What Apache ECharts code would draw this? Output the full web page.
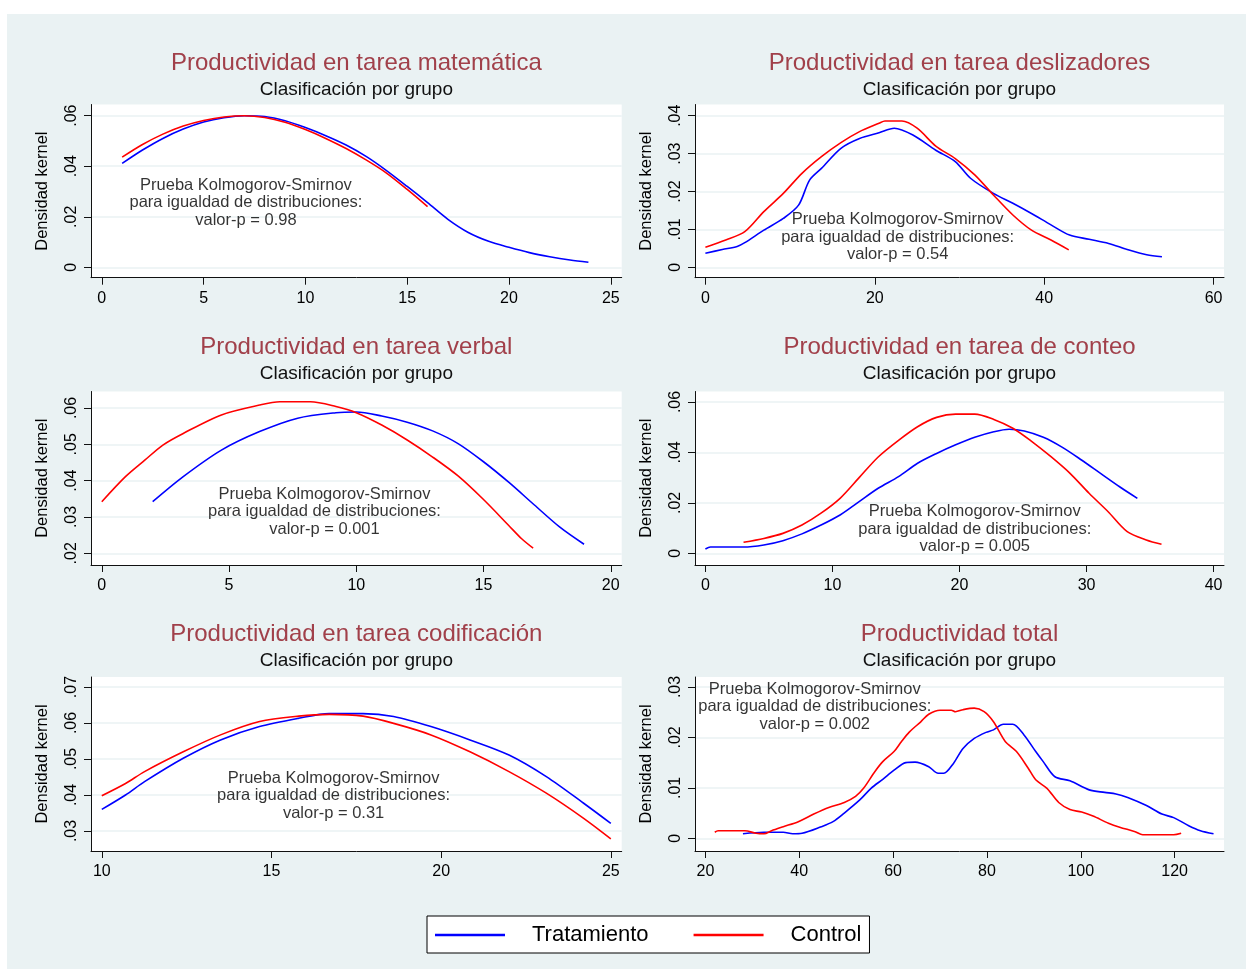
<!DOCTYPE html>
<html>
<head>
<meta charset="utf-8">
<script src="https://cdn.jsdelivr.net/npm/echarts@6/dist/echarts.min.js"></script>
<style>
  html, body { margin: 0; padding: 0; background: #ffffff; }
  #chart { position: absolute; left: 7px; top: 14px; width: 1239px; height: 955px; }
</style>
</head>
<body>
<div id="chart"></div>
<script>
// ---- Text ----
const seriesNames = ['Tratamiento', 'Control'];
const panelTitles = [
  'Productividad en tarea matemática',
  'Productividad en tarea deslizadores',
  'Productividad en tarea verbal',
  'Productividad en tarea de conteo',
  'Productividad en tarea codificación',
  'Productividad total'
];
const subtitle = 'Clasificación por grupo';
const yAxisTitle = 'Densidad kernel';
const ksPValues = ['0.98', '0.54', '0.001', '0.005', '0.31', '0.002'];

// ---- Tick values ----
const mathXTicks = [0, 5, 10, 15, 20, 25];
const mathYTicks = [0, 0.02, 0.04, 0.06];
const sliderXTicks = [0, 20, 40, 60];
const sliderYTicks = [0, 0.01, 0.02, 0.03, 0.04];
const verbalXTicks = [0, 5, 10, 15, 20];
const verbalYTicks = [0.02, 0.03, 0.04, 0.05, 0.06];
const countXTicks = [0, 10, 20, 30, 40];
const countYTicks = [0, 0.02, 0.04, 0.06];
const codingXTicks = [10, 15, 20, 25];
const codingYTicks = [0.03, 0.04, 0.05, 0.06, 0.07];
const totalXTicks = [20, 40, 60, 80, 100, 120];
const totalYTicks = [0, 0.01, 0.02, 0.03];

// ---- Kernel density estimates: [score, density] ----
const mathTreat = [[1,.0411],[2,.0464],[3,.0510],[4,.0547],[5,.0575],[6,.0592],[7,.0600],[8,.0597],[9,.0580],[10,.0553],[11,.0521],[12,.0484],[13,.0438],[14,.0382],[15,.0320],[16,.0256],[17,.0190],[18,.0138],[19,.0103],[20,.0079],[21,.0058],[22,.0042],[23,.0029],[23.9,.0020]];
const mathControl = [[1,.0436],[2,.0486],[3,.0527],[4,.0559],[5,.0581],[6,.0595],[7,.0600],[8,.0593],[9,.0574],[10,.0545],[11,.0510],[12,.0470],[13,.0424],[14,.0372],[15,.0308],[16,.0240]];

const sliderTreat = [[0,.0037],[2,.0047],[3.75,.0055],[4.65,.0065],[6.9,.0098],[9.2,.0129],[11,.0164],[12.3,.0230],[13.7,.0261],[16,.0314],[18.2,.0340],[20.5,.0355],[22.3,.0367],[24.5,.0349],[27.2,.0309],[29.5,.0279],[31.3,.0235],[34,.0195],[36.3,.0169],[38.5,.0142],[40.8,.0112],[43,.0085],[45.3,.0074],[47.6,.0063],[49.8,.0047],[52.1,.0033],[53.9,.0028]];
const sliderControl = [[0,.0053],[2.4,.0072],[4.65,.0094],[6.9,.0147],[9.2,.0195],[11.4,.0248],[13.7,.0292],[16,.0329],[18.2,.0358],[20.5,.0380],[21.2,.0386],[23.2,.0386],[25,.0367],[27.2,.0320],[29.5,.0287],[31.8,.0244],[34,.0191],[36.3,.0138],[38.5,.0098],[40.8,.0072],[42.9,.0046]];

const verbalTreat = [[2,.0342],[3.2,.0411],[4.7,.0484],[6.2,.0535],[7.7,.0572],[9.2,.0587],[10,.0589],[11,.0578],[12,.0561],[13,.0537],[14,.0502],[15,.0452],[16,.0395],[17,.0333],[18,.0272],[18.95,.0225]];
const verbalControl = [[0,.0342],[0.93,.0411],[1.7,.0457],[2.4,.0498],[3.2,.0530],[4.7,.0581],[6.2,.0608],[7,.0617],[8.2,.0617],[9.2,.0604],[10,.0587],[11,.0553],[12,.0512],[13,.0465],[14,.0413],[15,.0348],[16,.0276],[16.5,.0240],[16.95,.0214]];

const countTreat = [[0,.0017],[0.4,.0025],[3,.0025],[4.6,.0033],[6.1,.0050],[7.6,.0077],[9.1,.0112],[10.6,.0152],[12.1,.0205],[13.6,.0258],[15.2,.0304],[16.7,.0357],[18.2,.0396],[19.7,.0430],[21.2,.0460],[22.7,.0482],[23.9,.0492],[25.1,.0485],[26.6,.0460],[28.1,.0420],[29.6,.0370],[31.1,.0317],[32.6,.0264],[34,.0218]];
const countControl = [[3,.0044],[4.6,.0059],[6.1,.0079],[7.6,.0112],[9.1,.0159],[10.6,.0218],[12.1,.0300],[13.6,.0382],[15.2,.0448],[16.7,.0502],[18.2,.0539],[19.7,.0552],[21.2,.0552],[22.7,.0531],[24.2,.0496],[25.7,.0443],[27.2,.0383],[28.7,.0317],[30.2,.0238],[31.7,.0165],[33.2,.0086],[34.7,.0053],[35.9,.0036]];

const codingTreat = [[10,.0360],[10.7,.0400],[11.26,.0437],[12.4,.0502],[13.5,.0553],[14.65,.0590],[15.8,.0613],[16.7,.0626],[17.7,.0626],[18.6,.0618],[19.7,.0590],[20.85,.0553],[22,.0511],[23.1,.0451],[24.2,.0377],[25,.0321]];
const codingControl = [[10,.0398],[10.7,.0432],[11.26,.0465],[12.4,.0520],[13.5,.0567],[14.65,.0604],[15.8,.0619],[16.7,.0624],[17.7,.0619],[18.6,.0599],[19.7,.0567],[20.85,.0520],[22,.0465],[23.1,.0405],[24.2,.0335],[25,.0278]];

const totalTreat = [[28,.0009],[32.5,.0012],[36.6,.0012],[38.6,.0009],[40.6,.0010],[44.7,.0023],[47.2,.0033],[49.6,.0050],[52.9,.0076],[55.3,.0099],[57.8,.0117],[60.2,.0135],[62.7,.0150],[64.7,.0151],[67.6,.0142],[69.6,.0129],[70.8,.0129],[72.9,.0149],[74.9,.0178],[77.3,.0198],[79.8,.0210],[81.4,.0215],[83.5,.0226],[85.5,.0226],[87.9,.0205],[90.4,.0172],[92,.0152],[94.5,.0122],[97.7,.0114],[101.8,.0096],[105.1,.0091],[107.5,.0088],[110,.0081],[114,.0065],[117.3,.0048],[119.8,.0041],[123,.0025],[125.5,.0015],[128.3,.0009]];
const totalControl = [[22,.0012],[22.7,.0015],[28.4,.0015],[30.8,.0010],[32.5,.0009],[34.1,.0015],[36.6,.0023],[39.8,.0033],[43.1,.0048],[46.3,.0061],[49.6,.0071],[52,.0083],[53.7,.0099],[56.1,.0132],[57.8,.0152],[60.2,.0172],[61.8,.0192],[63.5,.0211],[65.9,.0231],[67.6,.0246],[70,.0254],[72.4,.0254],[73.3,.0251],[74.9,.0255],[77.3,.0258],[79.4,.0251],[81.4,.0231],[83.9,.0192],[86.3,.0172],[88.8,.0139],[90.4,.0116],[92.8,.0099],[95.3,.0071],[97.7,.0057],[100.2,.0052],[102.6,.0044],[105.9,.0030],[108.3,.0022],[111.6,.0013],[113.2,.0007],[119.8,.0007],[121.4,.0010]];

// Where each Kolmogorov-Smirnov note sits, in data units of its panel
const ksNoteAnchors = [[7.08, .0256], [22.7, .0079], [8.75, .0315], [21.2, .0095], [16.83, .0398], [43.3, .0261]];

// ---- Panel assembly ----
const panelData = [
  { treat: mathTreat,   control: mathControl,   xTicks: mathXTicks,   yTicks: mathYTicks },
  { treat: sliderTreat, control: sliderControl, xTicks: sliderXTicks, yTicks: sliderYTicks },
  { treat: verbalTreat, control: verbalControl, xTicks: verbalXTicks, yTicks: verbalYTicks },
  { treat: countTreat,  control: countControl,  xTicks: countXTicks,  yTicks: countYTicks },
  { treat: codingTreat, control: codingControl, xTicks: codingXTicks, yTicks: codingYTicks },
  { treat: totalTreat,  control: totalControl,  xTicks: totalXTicks,  yTicks: totalYTicks }
];

// Plot regions (page pixels) and axis extents, including the padding around the ticks
const OX = 7, OY = 14;
const colLeft = [91, 695];
const colWidth = [530.7, 529];
const rowTop = [104.5, 391.5, 677];
const rowHeight = [173.2, 173.5, 174];
const titleCenterY = [62.5, 347, 634];
const axisRanges = [
  { x: [-0.53, 25.535],  y: [-0.00412, 0.06443] },
  { x: [-1.228, 61.228], y: [-0.00274, 0.04296] },
  { x: [-0.424, 20.43],  y: [0.01678, 0.06454] },
  { x: [-0.819, 40.819], y: [-0.00464, 0.06416] },
  { x: [9.682, 25.321],  y: [0.02444, 0.07278] },
  { x: [17.78, 130.53],  y: [-0.00252, 0.03198] }
];

const FONT = "'Liberation Sans', Arial, sans-serif";
const BLUE = '#0000ff';
const RED = '#ff0000';
const TEXT = '#000000';
const BG = '#eaf2f3';

const grids = [], xAxes = [], yAxes = [], titles = [], series = [];

panelData.forEach((p, i) => {
  const col = i % 2, row = Math.floor(i / 2);
  const left = colLeft[col] - OX;
  const top = rowTop[row] - OY;
  grids.push({
    left: left, top: top, width: colWidth[col], height: rowHeight[row],
    show: true, backgroundColor: '#ffffff', borderWidth: 0
  });
  xAxes.push({
    type: 'value', gridIndex: i,
    min: axisRanges[i].x[0], max: axisRanges[i].x[1],
    axisLine: { show: true, onZero: false, lineStyle: { color: '#111', width: 1 } },
    axisTick: { show: true, length: 7, customValues: p.xTicks, lineStyle: { color: '#111', width: 1 } },
    axisLabel: {
      customValues: p.xTicks, margin: 13, fontSize: 16, color: TEXT, fontFamily: FONT,
      formatter: v => String(v)
    },
    splitLine: { show: false }
  });
  yAxes.push({
    type: 'value', gridIndex: i,
    min: axisRanges[i].y[0], max: axisRanges[i].y[1],
    name: yAxisTitle, nameLocation: 'middle', nameRotate: 90, nameGap: 40,
    nameTextStyle: { fontSize: 16.5, color: TEXT, fontFamily: FONT },
    axisLine: { show: true, onZero: false, lineStyle: { color: '#111', width: 1 } },
    axisTick: { show: true, length: 7, customValues: p.yTicks, lineStyle: { color: '#111', width: 1 } },
    axisLabel: {
      customValues: p.yTicks, rotate: 90, margin: 11, fontSize: 16, color: TEXT, fontFamily: FONT,
      formatter: v => (v === 0 ? '0' : String(+v.toFixed(4)).replace(/^0\./, '.'))
    },
    splitLine: { show: true, lineStyle: { color: BG, width: 1.5 } }
  });
  const cx = colLeft[col] + colWidth[col] / 2 - OX;
  titles.push({
    text: panelTitles[i], subtext: subtitle,
    left: cx, top: titleCenterY[row] - 11.5 - OY, textAlign: 'center',
    padding: 0, itemGap: 5,
    textStyle: { fontSize: 24, fontWeight: 'normal', color: '#a1404a', fontFamily: FONT },
    subtextStyle: { fontSize: 19, color: '#111', fontFamily: FONT }
  });
  const lineCommon = {
    type: 'line', xAxisIndex: i, yAxisIndex: i, showSymbol: false, symbol: 'none',
    smooth: 0.3, silent: true, animation: false
  };
  series.push(Object.assign({}, lineCommon, {
    name: seriesNames[0], data: p.treat,
    itemStyle: { color: BLUE }, lineStyle: { color: BLUE, width: 1.6 }
  }));
  series.push(Object.assign({}, lineCommon, {
    name: seriesNames[1], data: p.control,
    itemStyle: { color: RED }, lineStyle: { color: RED, width: 1.6 }
  }));
  // Kolmogorov-Smirnov test note for this panel
  series.push({
    type: 'scatter', xAxisIndex: i, yAxisIndex: i, silent: true, animation: false,
    symbolSize: 1, itemStyle: { color: 'rgba(0,0,0,0)' },
    data: [ksNoteAnchors[i]],
    label: {
      show: true, position: 'inside', align: 'center', verticalAlign: 'middle',
      fontSize: 16.5, lineHeight: 17.5, color: TEXT, fontFamily: FONT,
      formatter: 'Prueba Kolmogorov-Smirnov\npara igualdad de distribuciones:\nvalor-p = ' + ksPValues[i]
    },
    labelLayout: { hideOverlap: false }
  });
});

const chart = echarts.init(document.getElementById('chart'), null, { renderer: 'canvas' });
chart.setOption({
  backgroundColor: BG,
  animation: false,
  title: titles,
  grid: grids,
  xAxis: xAxes,
  yAxis: yAxes,
  legend: {
    data: seriesNames,
    left: 427 - OX, top: 916 - OY,
    orient: 'horizontal',
    padding: [8, 8, 7, 8],
    itemGap: 45, itemWidth: 70, itemHeight: 2.5, icon: 'rect',
    backgroundColor: '#ffffff', borderColor: '#000', borderWidth: 1, borderRadius: 0,
    selectedMode: false,
    textStyle: { fontSize: 22, color: TEXT, fontFamily: FONT, padding: [0, 0, 0, 22] }
  },
  series: series
});
</script>
</body>
</html>
